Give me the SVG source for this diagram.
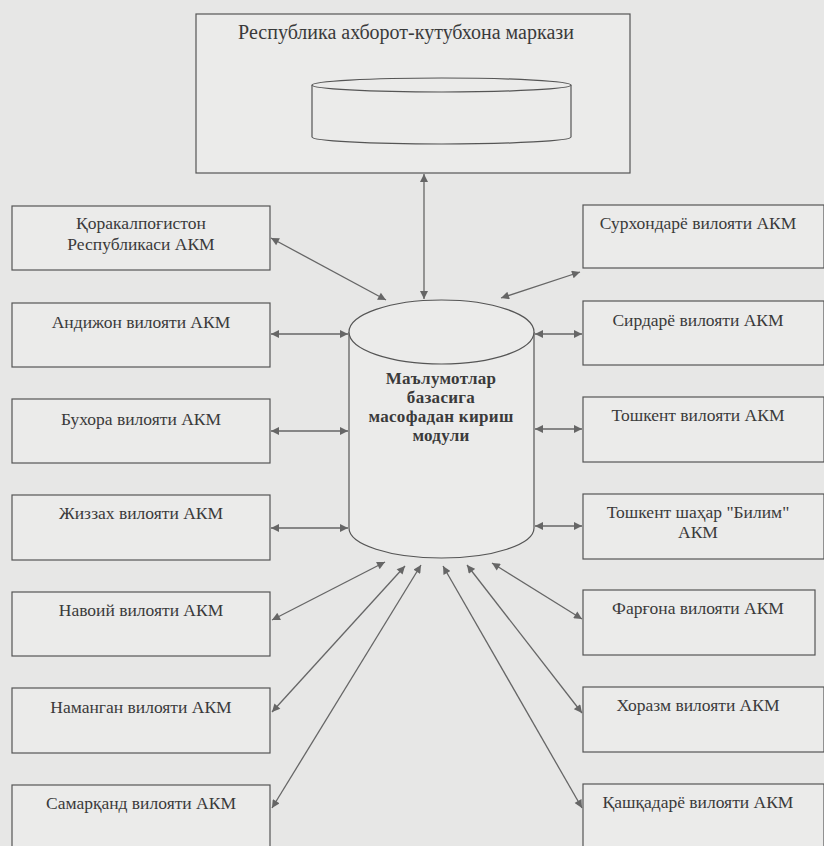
<svg xmlns="http://www.w3.org/2000/svg" width="824" height="846" viewBox="0 0 824 846">
<defs>
<marker id="ah" viewBox="0 0 10 10" refX="10" refY="5" markerWidth="9" markerHeight="8" markerUnits="userSpaceOnUse" orient="auto-start-reverse">
<path d="M0,0 L10,5 L0,10 Z" fill="#666"/>
</marker>
</defs>
<style>
.bg{fill:#e7e7e6}
.box{fill:#ebebea;stroke:#555;stroke-width:1.2}
text{font-family:"Liberation Serif","Tinos","Times New Roman","DejaVu Serif",serif;fill:#3a3a3a;text-anchor:middle}
.lbl{font-size:17.5px}
.ttl{font-size:20px}
.bold{font-size:17px;font-weight:bold;letter-spacing:0.3px}
.cyl{fill:#ebebea;stroke:#555;stroke-width:1.2}
.con{stroke:#666;stroke-width:1.3;fill:none;marker-start:url(#ah);marker-end:url(#ah)}
</style>
<rect class="bg" x="0" y="0" width="824" height="846"/>

<g id="center-top">
<rect class="box" x="196" y="14" width="434" height="159"/>
<text class="ttl" x="406" y="39">Республика ахборот-кутубхона маркази</text>
<path class="cyl" d="M312,85 L312,137 A129.5,7 0 0 0 571,137 L571,85"/>
<ellipse class="cyl" cx="441.5" cy="85" rx="129.5" ry="7"/>
</g>

<g id="main-db">
<path class="cyl" d="M349,332 L349,528 A92.5,30 0 0 0 534,528 L534,332"/>
<ellipse class="cyl" cx="441.5" cy="332" rx="92.5" ry="32"/>
<text class="bold" x="441" y="384">Маълумотлар</text>
<text class="bold" x="441" y="403">базасига</text>
<text class="bold" x="441" y="422">масофадан кириш</text>
<text class="bold" x="441" y="441">модули</text>
</g>

<g id="n-qoraqalpogiston"><rect class="box" x="12" y="206" width="258" height="64"/><text class="lbl" x="141" y="229">Қоракалпоғистон</text><text class="lbl" x="141" y="250">Республикаси АКМ</text></g>
<g id="n-andijon"><rect class="box" x="12" y="303" width="258" height="64"/><text class="lbl" x="141" y="328">Андижон вилояти АКМ</text></g>
<g id="n-buxoro"><rect class="box" x="12" y="399" width="258" height="64"/><text class="lbl" x="141" y="425">Бухора вилояти АКМ</text></g>
<g id="n-jizzax"><rect class="box" x="12" y="495" width="258" height="65"/><text class="lbl" x="141" y="519">Жиззах вилояти АКМ</text></g>
<g id="n-navoiy"><rect class="box" x="12" y="592" width="258" height="64"/><text class="lbl" x="141" y="616">Навоий вилояти АКМ</text></g>
<g id="n-namangan"><rect class="box" x="12" y="688" width="258" height="65"/><text class="lbl" x="141" y="713">Наманган вилояти АКМ</text></g>
<g id="n-samarqand"><rect class="box" x="12" y="785" width="258" height="70"/><text class="lbl" x="141" y="809">Самарқанд вилояти АКМ</text></g>

<g id="n-surxondaryo"><rect class="box" x="583" y="205" width="241" height="63"/><text class="lbl" x="698" y="229">Сурхондарё вилояти АКМ</text></g>
<g id="n-sirdaryo"><rect class="box" x="583" y="301" width="241" height="64"/><text class="lbl" x="698" y="326">Сирдарё вилояти АКМ</text></g>
<g id="n-toshkent-v"><rect class="box" x="583" y="397" width="241" height="65"/><text class="lbl" x="698" y="421">Тошкент вилояти АКМ</text></g>
<g id="n-toshkent-sh"><rect class="box" x="583" y="494" width="241" height="65"/><text class="lbl" x="698" y="518">Тошкент шаҳар "Билим"</text><text class="lbl" x="698" y="538">АКМ</text></g>
<g id="n-fargona"><rect class="box" x="583" y="590" width="232" height="65"/><text class="lbl" x="698" y="614">Фарғона вилояти АКМ</text></g>
<g id="n-xorazm"><rect class="box" x="583" y="687" width="241" height="65"/><text class="lbl" x="698" y="711">Хоразм вилояти АКМ</text></g>
<g id="n-qashqadaryo"><rect class="box" x="583" y="784" width="241" height="70"/><text class="lbl" x="698" y="808">Қашқадарё вилояти АКМ</text></g>

<g id="connectors">
<line class="con" x1="424" y1="174" x2="424" y2="299"/>
<line class="con" x1="271" y1="238" x2="386" y2="300"/>
<line class="con" x1="271" y1="334" x2="348" y2="334"/>
<line class="con" x1="271" y1="431" x2="348" y2="431"/>
<line class="con" x1="271" y1="528" x2="348" y2="528"/>
<line class="con" x1="272" y1="620" x2="385" y2="562"/>
<line class="con" x1="272" y1="712" x2="405" y2="566"/>
<line class="con" x1="272" y1="808" x2="421" y2="565"/>
<line class="con" x1="580" y1="272" x2="501" y2="298"/>
<line class="con" x1="535" y1="334" x2="582" y2="334"/>
<line class="con" x1="535" y1="429" x2="582" y2="429"/>
<line class="con" x1="535" y1="526" x2="582" y2="526"/>
<line class="con" x1="582" y1="619" x2="492" y2="563"/>
<line class="con" x1="582" y1="713" x2="467" y2="565"/>
<line class="con" x1="582" y1="808" x2="443" y2="566"/>
</g>
</svg>
